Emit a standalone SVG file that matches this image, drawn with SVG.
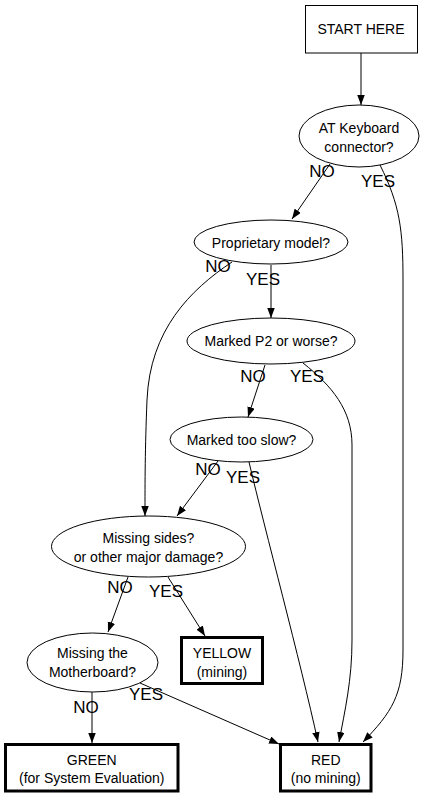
<svg xmlns="http://www.w3.org/2000/svg" width="429" height="797" viewBox="0 0 429 797">
<style>
  .bg { fill: #ffffff; }
  .node { fill: none; stroke: #000; stroke-width: 1; }
  .term { fill: none; stroke: #000; stroke-width: 3; }
  .t { font-family: "Liberation Sans", Arial, sans-serif; font-size: 14px; fill: #000; text-anchor: middle; }
  .lbl { font-family: "Liberation Sans", Arial, sans-serif; font-size: 17px; fill: #000; text-anchor: middle; }
  .edge { fill: none; stroke: #000; stroke-width: 1; marker-end: url(#arrow); }
</style>
<defs>
  <marker id="arrow" markerUnits="userSpaceOnUse" markerWidth="11" markerHeight="8" refX="10" refY="3.75" orient="auto">
    <path d="M0,0 L10,3.75 L0,7.5 z" fill="#000"/>
  </marker>
</defs>
<rect class="bg" x="0" y="0" width="429" height="797"/>

<g id="connectors">
  <path class="edge" d="M361,53 L361,105"/>
  <path class="edge" d="M330,164 L292,219"/>
  <path class="edge" d="M380,165 C400,205 403,230 403,280 L403,650 C403,695 392,712 363,742"/>
  <path class="edge" d="M271,265 L271,318"/>
  <path class="edge" d="M232,262 C190,290 150,330 147,400 C145,450 145,480 145,516"/>
  <path class="edge" d="M265,365 L248,417"/>
  <path class="edge" d="M303,363 C332,386 352,410 352,445 L352,640 C352,680 345,710 339,742"/>
  <path class="edge" d="M218,461 L177,516"/>
  <path class="edge" d="M249,462 C265,530 300,660 318,742"/>
  <path class="edge" d="M128,577 L108,632"/>
  <path class="edge" d="M168,577 L205,636"/>
  <path class="edge" d="M92,692 L92,743"/>
  <path class="edge" d="M140,683 L279,744"/>
</g>

<g id="start">
  <rect class="node" x="305.5" y="5.5" width="112" height="47.5"/>
  <text class="t" x="361" y="34">START HERE</text>
</g>

<g id="at_keyboard">
  <ellipse class="node" cx="359" cy="136" rx="60" ry="31"/>
  <text class="t" x="359" y="133">AT Keyboard</text>
  <text class="t" x="359" y="152">connector?</text>
  <text class="lbl" x="322" y="177">NO</text>
  <text class="lbl" x="378" y="187">YES</text>
</g>

<g id="proprietary">
  <ellipse class="node" cx="271" cy="242" rx="77" ry="22"/>
  <text class="t" x="271" y="248">Proprietary model?</text>
  <text class="lbl" x="218" y="272">NO</text>
  <text class="lbl" x="263" y="285">YES</text>
</g>

<g id="marked_p2">
  <ellipse class="node" cx="271" cy="341" rx="84" ry="23"/>
  <text class="t" x="271" y="346">Marked P2 or worse?</text>
  <text class="lbl" x="253" y="382">NO</text>
  <text class="lbl" x="307" y="382">YES</text>
</g>

<g id="too_slow">
  <ellipse class="node" cx="241.5" cy="439.5" rx="71.5" ry="22.5"/>
  <text class="t" x="241.5" y="445">Marked too slow?</text>
  <text class="lbl" x="208" y="475">NO</text>
  <text class="lbl" x="243" y="483">YES</text>
</g>

<g id="missing_sides">
  <ellipse class="node" cx="148.5" cy="546.5" rx="97" ry="30.5"/>
  <text class="t" x="148.5" y="543">Missing sides?</text>
  <text class="t" x="148.5" y="562">or other major damage?</text>
  <text class="lbl" x="120" y="593">NO</text>
  <text class="lbl" x="166" y="597">YES</text>
</g>

<g id="motherboard">
  <ellipse class="node" cx="92.5" cy="662.5" rx="65.5" ry="29.5"/>
  <text class="t" x="92.5" y="658">Missing the</text>
  <text class="t" x="92.5" y="677">Motherboard?</text>
  <text class="lbl" x="86" y="713">NO</text>
  <text class="lbl" x="146" y="700">YES</text>
</g>

<g id="yellow">
  <rect class="term" x="181.5" y="637.5" width="81" height="46"/>
  <text class="t" x="222" y="658">YELLOW</text>
  <text class="t" x="222" y="677">(mining)</text>
</g>

<g id="green">
  <rect class="term" x="5.5" y="744.5" width="172.5" height="46.5"/>
  <text class="t" x="91.75" y="765">GREEN</text>
  <text class="t" x="91.75" y="783">(for System Evaluation)</text>
</g>

<g id="red">
  <rect class="term" x="280.5" y="744.5" width="90.5" height="46.5"/>
  <text class="t" x="325.75" y="765">RED</text>
  <text class="t" x="325.75" y="783">(no mining)</text>
</g>
</svg>
